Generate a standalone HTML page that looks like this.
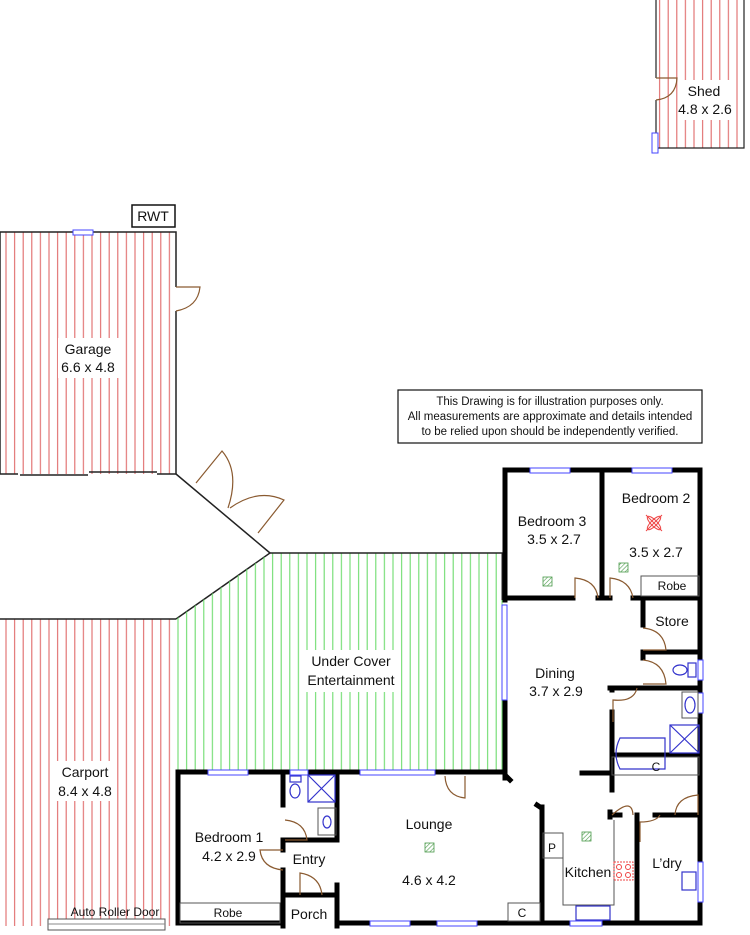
<!DOCTYPE html>
<html><head><meta charset="utf-8"><style>
html,body{margin:0;padding:0;background:#fff;}
svg{display:block;}
text{font-family:"Liberation Sans",sans-serif;font-size:14px;fill:#111;}
</style></head><body>
<svg width="750" height="935" viewBox="0 0 750 935" xmlns="http://www.w3.org/2000/svg">
<defs>
<pattern id="red" patternUnits="userSpaceOnUse" width="8.6" height="10" x="2" y="0">
<line x1="4" y1="0" x2="4" y2="10" stroke="#e06a6a" stroke-width="1.1"/></pattern>
<pattern id="grn" patternUnits="userSpaceOnUse" width="8.6" height="10" x="2" y="0">
<line x1="4" y1="0" x2="4" y2="10" stroke="#6edc6e" stroke-width="1.1"/></pattern>
<pattern id="hat" patternUnits="userSpaceOnUse" width="3" height="3" patternTransform="rotate(45)">
<line x1="0" y1="0" x2="0" y2="3" stroke="#4a9a4a" stroke-width="1.2"/></pattern>
</defs>

<!-- Shed -->
<rect x="656" y="0" width="88" height="148" fill="url(#red)"/>
<path d="M656 0V78M656 100V148H744V0" fill="none" stroke="#222" stroke-width="1.2"/>
<path d="M656 78H677Q676 98 656 100" fill="none" stroke="#8a5a30" stroke-width="1.2"/>
<rect x="652" y="133" width="6" height="20" fill="#fff" stroke="#44f" stroke-width="1"/>
<rect x="679" y="80" width="54" height="40" fill="#fff"/>
<text x="704" y="96" text-anchor="middle">Shed</text>
<text x="705" y="114" text-anchor="middle">4.8 x 2.6</text>

<!-- RWT -->
<rect x="132" y="205" width="43" height="22" fill="#fff" stroke="#111" stroke-width="1.5"/>
<text x="153" y="221" text-anchor="middle">RWT</text>

<!-- Garage -->
<rect x="0" y="232" width="176" height="242" fill="url(#red)"/>
<path d="M0 232H176V287M176 311V474M0 232V474H18M157 474H176" fill="none" stroke="#222" stroke-width="1.5"/>
<path d="M20 475H88M89 472H157" fill="none" stroke="#222" stroke-width="1.5"/>
<path d="M176 287H200Q198 307 176 311" fill="none" stroke="#8a5a30" stroke-width="1.2"/>
<rect x="73" y="230" width="20" height="5" fill="#fff" stroke="#44f" stroke-width="1"/>
<rect x="58" y="338" width="62" height="40" fill="#fff"/>
<text x="88" y="354" text-anchor="middle">Garage</text>
<text x="88" y="372" text-anchor="middle">6.6 x 4.8</text>
<!-- double doors -->
<path d="M176 474L270 553L176 619" fill="none" stroke="#222" stroke-width="1.5"/>
<path d="M196 483L222 451Q240 472 228 508M258 533L284 500Q258 488 230 508" fill="none" stroke="#8a5a30" stroke-width="1.2"/>

<!-- Under cover -->
<path d="M270 553H503V772H176V619Z" fill="url(#grn)"/>
<path d="M270 553H503" stroke="#222" stroke-width="1.5"/>
<path d="M502 553V600" stroke="#222" stroke-width="1"/>
<line x1="502" y1="600" x2="502" y2="772" stroke="#6edc6e" stroke-width="1"/>
<rect x="301" y="650" width="100" height="42" fill="#fff"/>
<text x="351" y="666" text-anchor="middle">Under Cover</text>
<text x="351" y="685" text-anchor="middle">Entertainment</text>

<!-- Carport -->
<rect x="0" y="619" width="176" height="307" fill="url(#red)"/>
<path d="M0 619H176" stroke="#222" stroke-width="1.5"/>
<rect x="55" y="761" width="62" height="40" fill="#fff"/>
<text x="85" y="777" text-anchor="middle">Carport</text>
<text x="85" y="796" text-anchor="middle">8.4 x 4.8</text>
<rect x="48" y="919" width="117" height="11" fill="#fff" stroke="#555" stroke-width="1"/>
<line x1="48" y1="924" x2="165" y2="924" stroke="#888" stroke-width="1"/>
<text x="115" y="916" text-anchor="middle" style="font-size:12px">Auto Roller Door</text>

<!-- Disclaimer -->
<rect x="398" y="390" width="304" height="53" fill="#fff" stroke="#111" stroke-width="1.2"/>
<text x="550" y="405" text-anchor="middle" style="font-size:11.5px">This Drawing is for illustration purposes only.</text>
<text x="550" y="420" text-anchor="middle" style="font-size:11.5px">All measurements are approximate and details intended</text>
<text x="550" y="435" text-anchor="middle" style="font-size:11.5px">to be relied upon should be independently verified.</text>

<!-- House thick walls -->
<g stroke="#000" stroke-width="5" fill="none" stroke-linecap="square">
<path d="M178 772V923H280M503 772H178"/>
<path d="M340 923H700V470H505V600"/>
<path d="M505 700V775L510 780"/>
<path d="M602 470V598M505 598H573M598 598H610M633 598H700"/>
<path d="M643 600V625M643 652H700M643 652V658M610 688H700M612 688V690M612 712V775M612 755H700M582 773H612"/>
<path d="M612 815H620M655 815H700M637 815V923M612 777V790M610 812V817"/>
<path d="M540 807L537 805M542 807V923"/>
<path d="M283 772V805M337 772V840M283 840H337M283 850V840M283 870V926M283 895H337M337 895V926M337 885V895"/>
<path d="M505 775V778"/>
</g>
<!-- windows -->
<g fill="#fff" stroke="#44f" stroke-width="1">
<rect x="530" y="468" width="40" height="5"/><rect x="632" y="468" width="40" height="5"/>
<rect x="502" y="605" width="5" height="95"/>
<rect x="208" y="770" width="40" height="5"/><rect x="290" y="770" width="18" height="5"/><rect x="360" y="770" width="75" height="5"/>
<rect x="370" y="921" width="40" height="5"/><rect x="437" y="921" width="40" height="5"/><rect x="570" y="921" width="32" height="5"/>
<rect x="698" y="660" width="5" height="20"/><rect x="698" y="693" width="5" height="20"/><rect x="698" y="862" width="5" height="40"/>
</g>
<!-- thin fixtures -->
<g fill="none" stroke="#555" stroke-width="1">
<rect x="641" y="576" width="58" height="20"/>
<rect x="180" y="903" width="100" height="20"/>
<rect x="508" y="903" width="32" height="18"/>
<rect x="543" y="833" width="20" height="25"/>
<path d="M563 858V905H614V820"/>
<rect x="612" y="757" width="87" height="18"/>
<rect x="682" y="692" width="16" height="26"/>
<rect x="318" y="808" width="18" height="27"/>
</g>
<!-- doors -->
<g fill="none" stroke="#8a5a30" stroke-width="1.2">
<path d="M575 598V578Q596 580 598 598"/>
<path d="M610 598V578Q630 580 633 598"/>
<path d="M643 628Q664 630 666 650H643"/>
<path d="M643 660Q664 662 666 684H643"/>
<path d="M613 722V700Q634 702 637 688"/>
<path d="M612 815Q632 797 633 815"/>
<path d="M675 815Q676 797 698 795V815"/>
<path d="M640 842V822Q656 822 660 815"/>
<path d="M445 776Q446 796 465 798V776"/>
<path d="M285 820Q305 822 307 840H285"/>
<path d="M283 850H260Q262 868 283 870"/>
<path d="M300 895V873Q320 876 322 895"/>
</g>
<!-- blue fixtures -->
<g fill="none" stroke="#33c" stroke-width="1.2">
<rect x="308" y="775" width="27" height="27"/><path d="M308 775L335 802M335 775L308 802"/>
<ellipse cx="295" cy="791" rx="5" ry="7"/><rect x="290" y="776" width="11" height="6"/>
<ellipse cx="327" cy="822" rx="4" ry="6"/>
<path d="M620 738H665V769H620Q612 754 620 738Z"/>
<rect x="670" y="725" width="29" height="28"/><path d="M670 725L699 753M699 725L670 753"/>
<ellipse cx="690" cy="705" rx="5" ry="8"/>
<ellipse cx="680" cy="670" rx="7" ry="5"/><rect x="688" y="663" width="8" height="14"/>
<rect x="682" y="872" width="14" height="18"/>
<rect x="576" y="906" width="34" height="14"/>
</g>
<!-- stove -->
<rect x="614" y="862" width="19" height="18" fill="none" stroke="#e44" stroke-width="1" stroke-dasharray="2 1"/>
<g fill="none" stroke="#e44" stroke-width="1"><circle cx="619" cy="867" r="2.5"/><circle cx="628" cy="867" r="2.5"/><circle cx="619" cy="875" r="2.5"/><circle cx="628" cy="875" r="2.5"/></g>
<!-- fan -->
<g stroke="#e44" fill="none" stroke-width="1"><path d="M646 515L662 531M662 515L646 531"/><ellipse cx="654" cy="523" rx="9" ry="3" transform="rotate(45 654 523)"/><ellipse cx="654" cy="523" rx="9" ry="3" transform="rotate(-45 654 523)"/></g>
<!-- hatches -->
<g fill="url(#hat)" stroke="#4a9a4a" stroke-width="0.8">
<rect x="543" y="577" width="9" height="9"/><rect x="619" y="563" width="9" height="9"/>
<rect x="425" y="843" width="9" height="9"/><rect x="582" y="832" width="9" height="9"/>
</g>
<!-- labels -->
<text x="552" y="526" text-anchor="middle">Bedroom 3</text>
<text x="554" y="544" text-anchor="middle">3.5 x 2.7</text>
<text x="656" y="503" text-anchor="middle">Bedroom 2</text>
<text x="656" y="557" text-anchor="middle">3.5 x 2.7</text>
<text x="672" y="590" text-anchor="middle" style="font-size:12px">Robe</text>
<text x="672" y="626" text-anchor="middle">Store</text>
<text x="555" y="678" text-anchor="middle">Dining</text>
<text x="556" y="696" text-anchor="middle">3.7 x 2.9</text>
<text x="656" y="771" text-anchor="middle" style="font-size:12px">C</text>
<text x="552" y="852" text-anchor="middle" style="font-size:12px">P</text>
<text x="588" y="877" text-anchor="middle">Kitchen</text>
<text x="667" y="868" text-anchor="middle">L’dry</text>
<text x="522" y="917" text-anchor="middle" style="font-size:12px">C</text>
<text x="429" y="829" text-anchor="middle">Lounge</text>
<text x="429" y="885" text-anchor="middle">4.6 x 4.2</text>
<text x="229" y="842" text-anchor="middle">Bedroom 1</text>
<text x="229" y="861" text-anchor="middle">4.2 x 2.9</text>
<text x="309" y="864" text-anchor="middle">Entry</text>
<text x="309" y="919" text-anchor="middle">Porch</text>
<text x="228" y="917" text-anchor="middle" style="font-size:12px">Robe</text>
</svg>
</body></html>
